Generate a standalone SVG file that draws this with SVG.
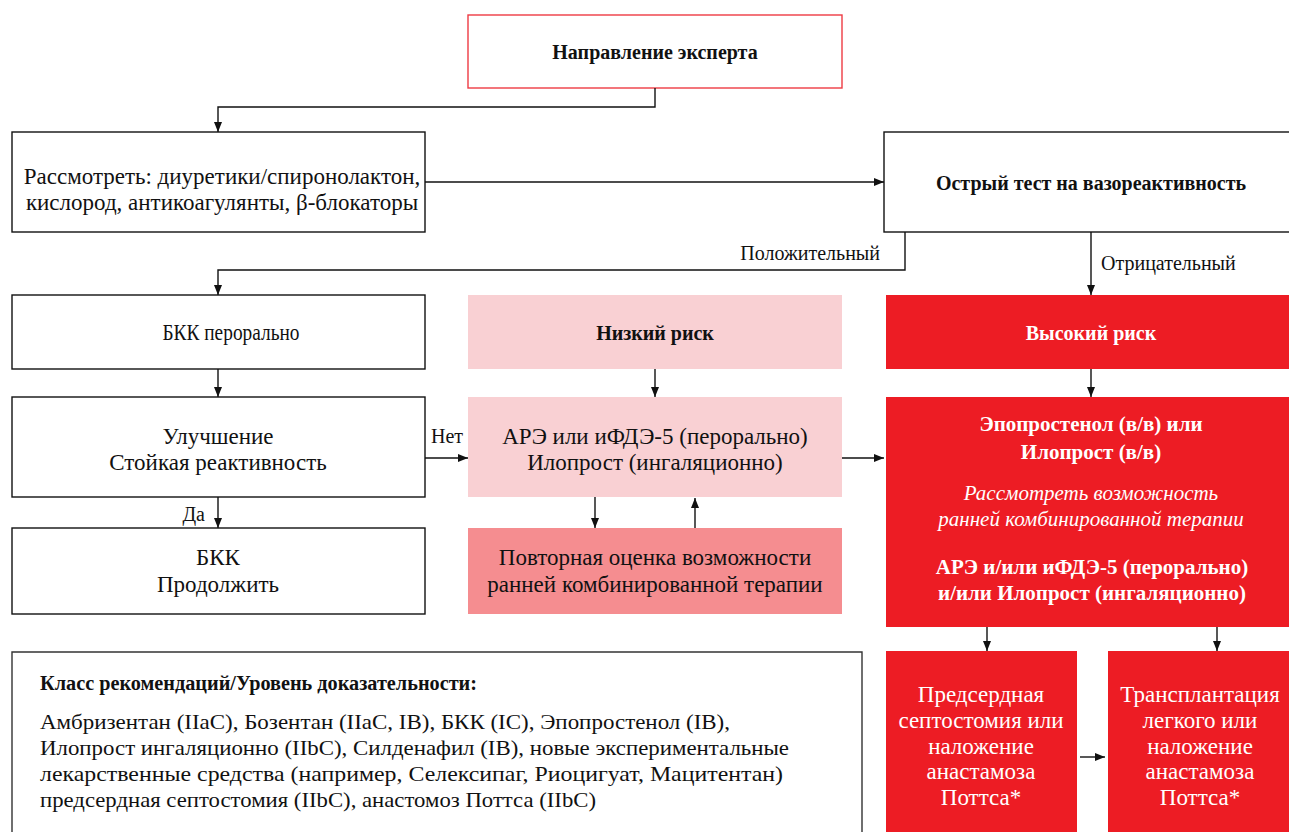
<svg xmlns="http://www.w3.org/2000/svg" width="1289" height="832" viewBox="0 0 1289 832">
<style>
text{font-family:"Liberation Serif","Times New Roman",serif;font-size:23px;fill:#111;}
.c{text-anchor:middle;}
.b{font-weight:bold;font-size:20px;}
.w{fill:#fff;}
.i{font-style:italic;font-size:21px;}
.m{font-size:21px;}
.box{fill:#fff;stroke:#111;stroke-width:1.4;}
.low{fill:#f9d0d3;}
.mid{fill:#f58d90;}
.red{fill:#ed1c24;}
.lbl{font-size:20px;}
.leg{font-size:22px;}
#connectors path{fill:none;stroke:#111;stroke-width:1.4;}
</style>
<defs>
<marker id="ah" markerWidth="10" markerHeight="8" refX="10" refY="4" orient="auto" markerUnits="userSpaceOnUse">
<path d="M0,0 L10,4 L0,8 Z" fill="#111"/>
</marker>
</defs>
<rect width="1289" height="832" fill="#fff"/>

<g id="n-expert">
<rect x="468" y="15" width="374" height="73" fill="#fff" stroke="#ee3b43" stroke-width="1.4"/>
<text class="c b" x="655" y="59">Направление эксперта</text>
</g>
<g id="n-consider">
<rect class="box" x="12" y="132" width="413" height="100"/>
<text class="c" x="222" y="184">Рассмотреть: диуретики/спиронолактон,</text>
<text class="c" x="222" y="210">кислород, антикоагулянты, β-блокаторы</text>
</g>
<g id="n-test">
<rect class="box" x="884" y="132" width="410" height="100"/>
<text class="c b" x="1091" y="190">Острый тест на вазореактивность</text>
</g>
<g id="n-bkk-oral">
<rect class="box" x="12" y="295" width="413" height="74"/>
<text class="c" x="231" y="340" textLength="137" lengthAdjust="spacingAndGlyphs">БКК перорально</text>
</g>
<g id="n-improve">
<rect class="box" x="12" y="397" width="413" height="100"/>
<text class="c" x="218" y="444">Улучшение</text>
<text class="c" x="218" y="470">Стойкая реактивность</text>
</g>
<g id="n-bkk-continue">
<rect class="box" x="12" y="528" width="413" height="86"/>
<text class="c" x="218" y="565">БКК</text>
<text class="c" x="218" y="592">Продолжить</text>
</g>
<g id="n-low">
<rect class="low" x="468" y="295" width="374" height="74"/>
<text class="c b" x="655" y="340">Низкий риск</text>
</g>
<g id="n-are">
<rect class="low" x="468" y="397" width="374" height="100"/>
<text class="c" x="655" y="444">АРЭ или иФДЭ-5 (перорально)</text>
<text class="c" x="655" y="470">Илопрост (ингаляционно)</text>
</g>
<g id="n-reassess">
<rect class="mid" x="468" y="528" width="374" height="86"/>
<text class="c" x="655" y="565">Повторная оценка возможности</text>
<text class="c" x="655" y="592">ранней комбинированной терапии</text>
</g>
<g id="n-high">
<rect class="red" x="886" y="295" width="403" height="74"/>
<text class="c b w" x="1091" y="340">Высокий риск</text>
</g>
<g id="n-epo">
<rect class="red" x="886" y="397" width="403" height="230"/>
<text class="c b w m" x="1091" y="431">Эпопростенол (в/в) или</text>
<text class="c b w m" x="1091" y="459">Илопрост (в/в)</text>
<text class="c i w" x="1091" y="500">Рассмотреть возможность</text>
<text class="c i w" x="1091" y="526">ранней комбинированной терапии</text>
<text class="c b w m" x="1092" y="574">АРЭ и/или иФДЭ-5 (перорально)</text>
<text class="c b w m" x="1092" y="600">и/или Илопрост (ингаляционно)</text>
</g>
<g id="n-septo">
<rect class="red" x="886" y="651" width="191" height="181"/>
<text class="c w" x="981" y="702">Предсердная</text>
<text class="c w" x="981" y="728">септостомия или</text>
<text class="c w" x="981" y="754">наложение</text>
<text class="c w" x="981" y="779">анастамоза</text>
<text class="c w" x="981" y="805">Поттса*</text>
</g>
<g id="n-transplant">
<rect class="red" x="1108" y="651" width="181" height="181"/>
<text class="c w" x="1200" y="702">Трансплантация</text>
<text class="c w" x="1200" y="728">легкого или</text>
<text class="c w" x="1200" y="754">наложение</text>
<text class="c w" x="1200" y="779">анастамоза</text>
<text class="c w" x="1200" y="805">Поттса*</text>
</g>
<g id="n-legend">
<path d="M12,840 L12,652 L862,652 L862,840" fill="#fff" stroke="#333" stroke-width="1.4"/>
<text class="b" x="40" y="690" textLength="437" lengthAdjust="spacingAndGlyphs">Класс рекомендаций/Уровень доказательности:</text>
<text class="leg" x="40" y="729" textLength="690" lengthAdjust="spacingAndGlyphs">Амбризентан (IIaC), Бозентан (IIaC, IB), БКК (IC), Эпопростенол (IB),</text>
<text class="leg" x="40" y="755" textLength="749" lengthAdjust="spacingAndGlyphs">Илопрост ингаляционно (IIbC), Силденафил (IB), новые экспериментальные</text>
<text class="leg" x="40" y="781" textLength="743" lengthAdjust="spacingAndGlyphs">лекарственные средства (например, Селексипаг, Риоцигуат, Мацитентан)</text>
<text class="leg" x="40" y="807" textLength="556" lengthAdjust="spacingAndGlyphs">предсердная септостомия (IIbC), анастомоз Поттса (IIbC)</text>
</g>

<g id="connectors">
<path d="M655,88 V107 H218 V132" marker-end="url(#ah)"/>
<path d="M425,182 H884" marker-end="url(#ah)"/>
<path d="M905,232 V270 H218 V295" marker-end="url(#ah)"/>
<path d="M1091,232 V295" marker-end="url(#ah)"/>
<path d="M218,369 V397" marker-end="url(#ah)"/>
<path d="M218,497 V528" marker-end="url(#ah)"/>
<path d="M425,458 H468" marker-end="url(#ah)"/>
<path d="M655,369 V397" marker-end="url(#ah)"/>
<path d="M595,497 V528" marker-end="url(#ah)"/>
<path d="M695,528 V498" marker-end="url(#ah)"/>
<path d="M842,458 H884" marker-end="url(#ah)"/>
<path d="M1091,369 V397" marker-end="url(#ah)"/>
<path d="M987,627 V651" marker-end="url(#ah)"/>
<path d="M1217,627 V651" marker-end="url(#ah)"/>
<path d="M1080,757 H1105" marker-end="url(#ah)"/>
<text class="lbl" x="880" y="260" text-anchor="end">Положительный</text>
<text class="lbl" x="1101" y="270">Отрицательный</text>
<text class="lbl" x="205" y="521" text-anchor="end">Да</text>
<text class="lbl" x="447" y="443" text-anchor="middle">Нет</text>
</g>
</svg>
